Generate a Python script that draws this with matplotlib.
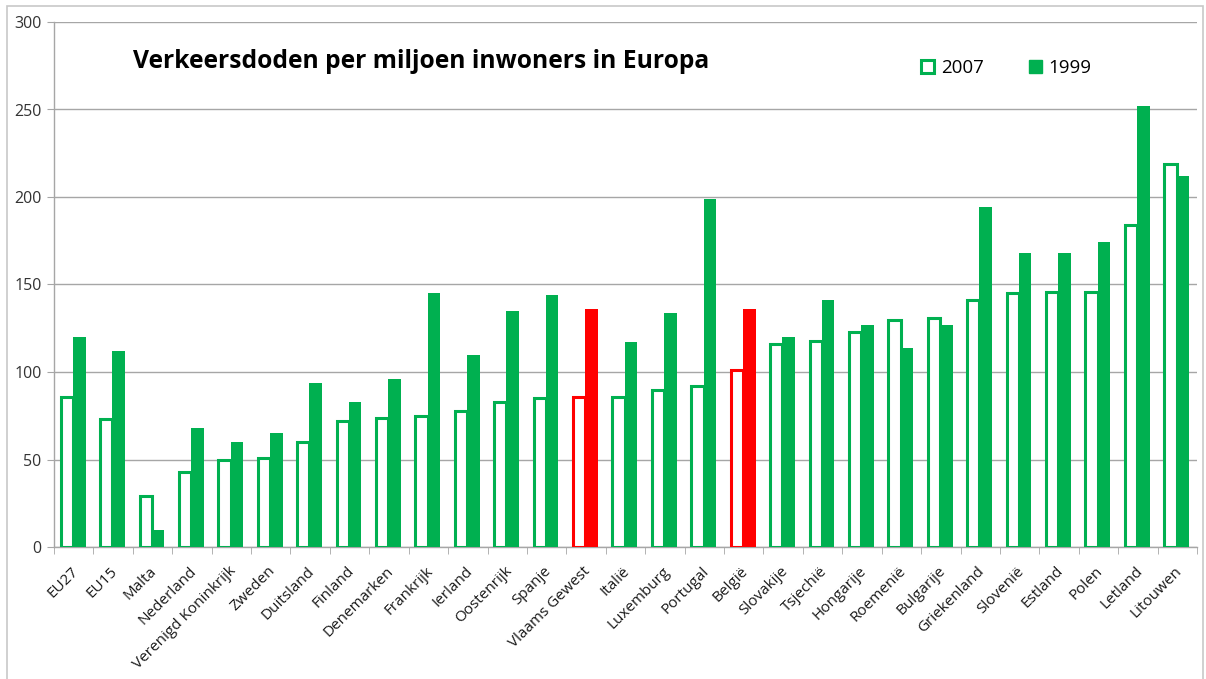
import matplotlib
matplotlib.use("Agg")
import matplotlib.pyplot as plt
import matplotlib.transforms as mtransforms
from matplotlib.patches import Rectangle, Patch
import numpy as np

plt.rcParams['font.family'] = ['Open Sans', 'DejaVu Sans']

countries = ["EU27", "EU15", "Malta", "Nederland", "Verenigd Koninkrijk", "Zweden",
             "Duitsland", "Finland", "Denemarken", "Frankrijk", "Ierland", "Oostenrijk",
             "Spanje", "Vlaams Gewest", "Italië", "Luxemburg", "Portugal", "België",
             "Slovakije", "Tsjechië", "Hongarije", "Roemenië", "Bulgarije", "Griekenland",
             "Slovenië", "Estland", "Polen", "Letland", "Litouwen"]
deaths_2007 = [86, 73, 29, 43, 50, 51, 60, 72, 74, 75, 78, 83, 85, 86, 86, 90, 92, 101,
               116, 118, 123, 130, 131, 141, 145, 146, 146, 184, 219]
deaths_1999 = [120, 112, 10, 68, 60, 65, 94, 83, 96, 145, 110, 135, 144, 136, 117, 134,
               199, 136, 120, 141, 127, 114, 127, 194, 168, 168, 174, 252, 212]
highlight = ["Vlaams Gewest", "België"]

GREEN = "#00B050"
RED = "#FF0000"

fig = plt.figure(figsize=(12.06, 6.79), dpi=100)
fig.patches.append(Rectangle((7 / 1206, -0.01), 1196 / 1206, 1 - 6 / 679 + 0.01,
                             transform=fig.transFigure, fill=False,
                             edgecolor="#C8C8C8", linewidth=1.2))

ax = fig.add_axes([54 / 1206, 132 / 679, 1143 / 1206, 525 / 679])

x = np.arange(len(countries))
colors = [RED if c in highlight else GREEN for c in countries]

ax.bar(x - 0.175, deaths_2007, width=0.31, facecolor="white", edgecolor=colors,
       linewidth=2.2, zorder=3)
ax.bar(x + 0.14, deaths_1999, width=0.32, color=colors, linewidth=0, zorder=4)

ax.set_xlim(-0.5, len(countries) - 0.5)
ax.set_ylim(0, 300)
ax.set_yticks(np.arange(0, 301, 50))
ax.yaxis.grid(True, color="#A6A6A6", linewidth=1.0, zorder=0)
ax.set_axisbelow(True)

ax.set_xticks(x)
ax.set_xticklabels(countries, rotation=45, ha="right", rotation_mode="anchor",
                   fontsize=11, color="#1A1A1A")
ax.tick_params(axis="x", which="major", length=0, pad=12)
shift = mtransforms.ScaledTranslation(-3 / 100, 0, fig.dpi_scale_trans)
for lbl in ax.get_xticklabels():
    lbl.set_transform(lbl.get_transform() + shift)
ax.set_xticks(np.arange(-0.5, len(countries), 1), minor=True)
ax.tick_params(axis="x", which="minor", length=5, color="#A6A6A6", direction="out")
ax.tick_params(axis="y", length=5, color="#A6A6A6", labelsize=11.5, labelcolor="#333333",
               pad=4)

for side in ["top", "right"]:
    ax.spines[side].set_visible(False)
for side in ["left", "bottom"]:
    ax.spines[side].set_color("#A6A6A6")
    ax.spines[side].set_linewidth(1.0)

ax.text((133 - 54) / 1143, 0.925, "Verkeersdoden per miljoen inwoners in Europa",
        transform=ax.transAxes, fontsize=17.7, fontweight="bold", color="black",
        ha="left", va="center")

handles = [Patch(facecolor="white", edgecolor=GREEN, linewidth=2.2, label="2007"),
           Patch(facecolor=GREEN, edgecolor=GREEN, label="1999")]
ax.legend(handles=handles, loc="center left", bbox_to_anchor=(0.744, 0.912), ncol=2,
          frameon=False, fontsize=13.5, handlelength=0.7, handleheight=0.7,
          handletextpad=0.35, columnspacing=2.4)

fig.savefig("out.png", dpi=100)
